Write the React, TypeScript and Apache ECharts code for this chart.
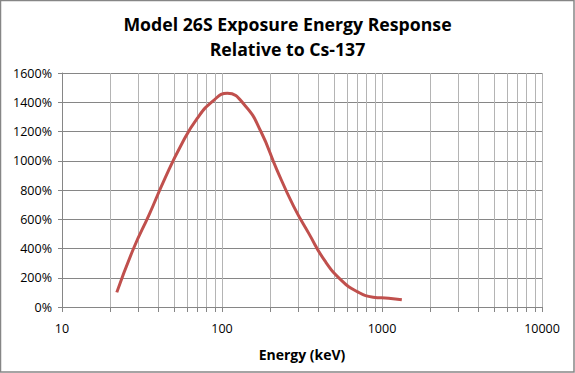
import React, { useEffect, useRef } from "react";
import * as echarts from "echarts";

const titleLines = ["Model 26S Exposure Energy Response", "Relative to Cs-137"];
const xAxisName = "Energy (keV)";
const energyKeV = [22, 28, 35, 44, 56, 70, 88, 108, 140, 175, 220, 280, 350, 440, 560, 700, 880, 1100, 1330];
const responsePct = [100, 400, 630, 880, 1115, 1290, 1410, 1462, 1375, 1200, 940, 690, 500, 315, 180, 105, 67, 60, 50];
const minorGridKeV = [
  20, 30, 40, 50, 60, 70, 80, 90,
  200, 300, 400, 500, 600, 700, 800, 900,
  2000, 3000, 4000, 5000, 6000, 7000, 8000, 9000,
];
const yMin = 0;
const yMax = 1600;
const yInterval = 200;
const xMin = 10;
const xMax = 10000;

export default function App() {
  const ref = useRef<HTMLDivElement>(null);
  useEffect(() => {
    if (!ref.current) return;
    const chart = echarts.init(ref.current, undefined, { renderer: "svg" });
    const font = "'Open Sans', sans-serif";
    chart.setOption({
      animation: false,
      backgroundColor: "#ffffff",
      title: {
        text: titleLines.join("\n"),
        left: "center",
        top: 6,
        textStyle: {
          fontFamily: font,
          fontWeight: "bold",
          fontSize: 17.7,
          lineHeight: 25,
          color: "#000000",
        },
      },
      grid: { left: 62, right: 33, top: 73, bottom: 66 },
      xAxis: {
        type: "log",
        logBase: 10,
        min: xMin,
        max: xMax,
        name: xAxisName,
        nameLocation: "middle",
        nameGap: 40,
        nameTextStyle: { fontFamily: font, fontWeight: "bold", fontSize: 14, color: "#000" },
        axisLine: { show: true, lineStyle: { color: "#868686", width: 1 } },
        axisTick: { show: true, length: 5, lineStyle: { color: "#868686" } },
        axisLabel: {
          fontFamily: font,
          fontSize: 12.5,
          color: "#000",
          margin: 15,
          formatter: (v: number) => String(Math.round(v)),
        },
        splitLine: { show: true, lineStyle: { color: "#b4b4b4", width: 1 } },
        minorTick: { show: false },
      },
      yAxis: {
        type: "value",
        min: yMin,
        max: yMax,
        interval: yInterval,
        axisLine: { show: true, lineStyle: { color: "#868686", width: 1 } },
        axisTick: { show: true, length: 4, lineStyle: { color: "#868686" } },
        axisLabel: {
          fontFamily: font,
          fontSize: 12.5,
          color: "#000",
          margin: 10,
          formatter: (v: number) => String(Math.round(v)) + "%",
        },
        splitLine: { show: true, lineStyle: { color: "#868686", width: 1 } },
      },
      graphic: [
        {
          type: "rect",
          shape: { x: 0.5, y: 0.5, width: 573.5, height: 371.5 },
          style: { fill: "none", stroke: "#868686", lineWidth: 1.5 },
          silent: true,
        },
      ],
      series: [
        {
          type: "custom",
          silent: true,
          z: 1,
          data: minorGridKeV.map((v) => [v, 0]),
          renderItem: (params: any, api: any) => {
            const v = api.value(0);
            const top = api.coord([v, yMax]);
            const bot = api.coord([v, yMin]);
            const x = Math.round(top[0]) + 0.5;
            return {
              type: "group",
              children: [
                {
                  type: "line",
                  shape: { x1: x, y1: top[1], x2: x, y2: bot[1] },
                  style: { stroke: "#b4b4b4", lineWidth: 1 },
                },
                {
                  type: "line",
                  shape: { x1: x, y1: bot[1], x2: x, y2: bot[1] + 5 },
                  style: { stroke: "#868686", lineWidth: 1 },
                },
              ],
            };
          },
        },
        {
          type: "line",
          z: 5,
          data: energyKeV.map((e, i) => [e, responsePct[i]]),
          smooth: 0.5,
          showSymbol: false,
          symbol: "none",
          lineStyle: { color: "#C0504D", width: 3 },
        },
      ],
    });
    return () => chart.dispose();
  }, []);
  return (
    <div
      ref={ref}
      style={{ position: "fixed", left: 0, top: 0, width: 575, height: 373 }}
    />
  );
}
